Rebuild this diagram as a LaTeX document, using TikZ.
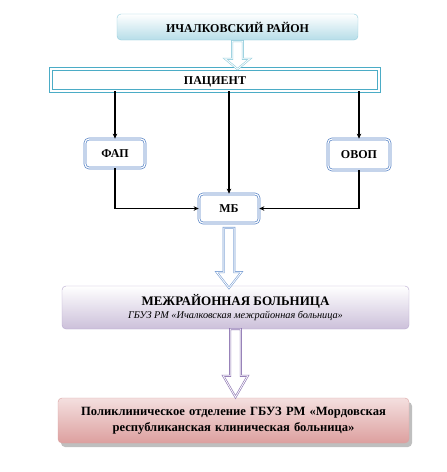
\documentclass[tikz,border=0pt]{standalone}
\usepackage{fontspec}
\setmainfont{Liberation Serif}
\usepackage{xcolor}
\usetikzlibrary{arrows.meta,positioning,shapes.arrows,shadows,calc}

\definecolor{raionline}{HTML}{93CDDD}
\definecolor{raionfill}{HTML}{B6DDE8}
\definecolor{bandline}{HTML}{4BACC6}
\definecolor{unitline}{HTML}{5B86C6}
\definecolor{bluearrow}{HTML}{7BA0D4}
\definecolor{mezhline}{HTML}{B8A9CF}
\definecolor{mezhfill}{HTML}{CCC0DA}
\definecolor{violetarrow}{HTML}{8A72B0}
\definecolor{pinkline}{HTML}{D9A3A2}
\definecolor{pinkfill}{HTML}{D99594}

\begin{document}
\begin{tikzpicture}[
  x=1pt, y=-1pt,
  level/.style={draw, rounded corners=4pt, align=center, font=\bfseries},
  unit/.style={draw=unitline, double=white, double distance=1.2pt, line width=0.7pt,
    rounded corners=4pt, minimum width=60pt, minimum height=29pt, font=\bfseries\fontsize{12}{14}\selectfont},
  hollow/.style={single arrow, fill=white, double=white, double distance=0.8pt, line width=0.6pt,
    rotate=-90, inner xsep=0pt, inner ysep=5pt, single arrow head extend=7pt, single arrow head indent=0pt},
  arr/.style={-{Stealth[length=5pt, width=4.5pt]}, line width=1.1pt}
]
  \useasboundingbox (0,0) rectangle (447,472);

  \node[level, draw=raionline, top color=white, bottom color=raionfill, minimum width=241pt, minimum height=26pt,
    font=\bfseries\fontsize{12}{14}\selectfont] (raion) at (237.5,27) {ИЧАЛКОВСКИЙ РАЙОН};
  \node[draw=bandline, double=white, double distance=1.8pt, line width=0.7pt, minimum width=328pt, minimum height=22pt,
    text height=8pt, text depth=0pt, font=\bfseries\fontsize{12}{14}\selectfont] (patient) at (215,80) {ПАЦИЕНТ};

  \node[unit] (fap) at (115,153.5) {ФАП};
  \node[unit, minimum width=62pt, minimum height=31pt] (ovop) at (359,154.5) {ОВОП};
  \node[unit] (mb) at (229,208.5) {МБ};

  \node[level, draw=mezhline, top color=white, bottom color=mezhfill, minimum width=347pt, minimum height=43pt,
    font=\bfseries\fontsize{13}{14}\selectfont] (mezh) at (235.5,307.5)
    {МЕЖРАЙОННАЯ БОЛЬНИЦА\\[-1pt] {\normalfont\itshape\fontsize{10.3}{11}\selectfont ГБУЗ РМ «Ичалковская межрайонная больница»}};
  \node[level, draw=pinkline, top color=pinkfill!30, bottom color=pinkfill!90, minimum width=351pt, minimum height=45pt,
    text width=340pt, font=\bfseries\fontsize{12.6}{16}\selectfont,
    drop shadow={shadow xshift=3pt, shadow yshift=-4pt, fill=black!50}] (clinic) at (233.5,420.5)
    {Поликлиническое отделение ГБУЗ РМ «Мордовская\\ республиканская клиническая больница»};

  % patient routes
  \draw[arr] (fap.north |- patient.south) -- (fap.north);
  \draw[arr] (ovop.north |- patient.south) -- (ovop.north);
  \draw[arr] (mb.north |- patient.south) -- (mb.north);
  \draw[arr] (fap.south) |- (mb.west);
  \draw[arr] (ovop.south) |- (mb.east);

  % hollow arrows between levels
  \node[hollow, draw=raionline, minimum height=28pt, single arrow tip angle=100, xshift=-1.5pt] (down1)
    at ($(raion.south)!0.5!(raion.south |- patient.north)$) {};
  \node[hollow, draw=bluearrow, minimum height=60pt, single arrow tip angle=76] (down2)
    at ($(mb.south)!0.5!(mb.south |- mezh.north)$) {};
  \node[hollow, draw=violetarrow, minimum height=68pt, single arrow tip angle=60, xshift=-5pt] (down3)
    at ($(mezh.south)!0.5!(mezh.south |- clinic.north)$) {};
\end{tikzpicture}
\end{document}
